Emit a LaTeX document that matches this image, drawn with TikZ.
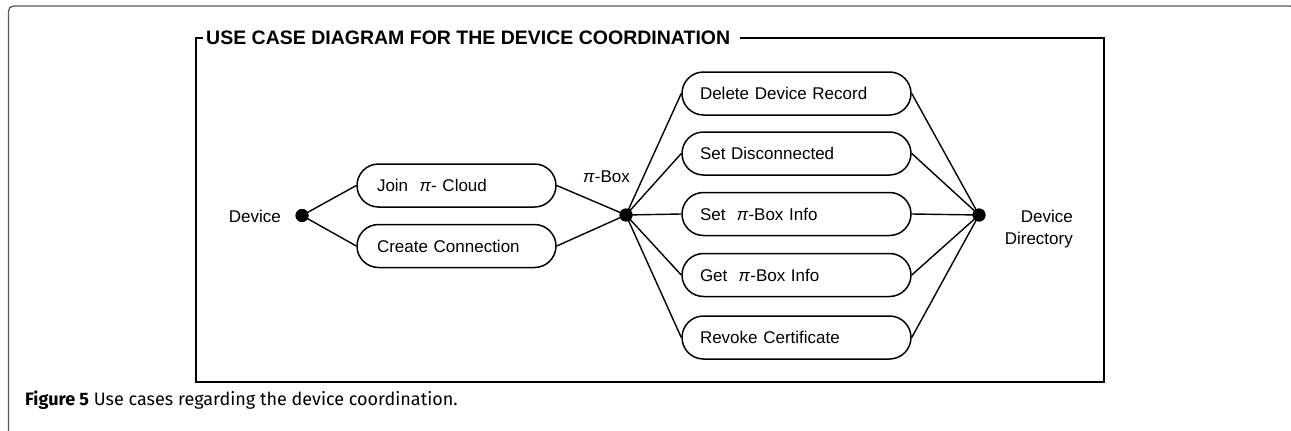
\documentclass[tikz,border=0pt]{standalone}
\usepackage{fontspec}
\setmainfont{Liberation Sans}
\newfontfamily\capfont{Fira Sans}
\newcommand\piit{\textit{π}}
\begin{document}
\begin{tikzpicture}[x=1pt,y=-1pt,
  usecase/.style={draw, line width=1.5pt, rounded corners=21.5pt,
    minimum height=43pt, inner ysep=0pt, align=left,
    font=\fontsize{17}{20}\selectfont},
  leftcase/.style={usecase, inner xsep=20pt, text width=159pt},
  rightcase/.style={usecase, inner xsep=18pt, text width=193pt},
  actor/.style={circle, fill=black, inner sep=0pt, minimum size=13pt},
  assoc/.style={line width=1.4pt},
  lbl/.style={font=\fontsize{17}{21.5}\selectfont, inner sep=0pt},
  frameline/.style={line width=2.8pt},
  pageline/.style={draw=black!65, line width=1.3pt, rounded corners=5pt}
]
\useasboundingbox (0,0) rectangle (1291,431);
\clip (0,0) rectangle (1291,431);

% page frame around the figure
\draw[pageline] (8.5,445) -- (8.5,6) -- (1295,6) -- (1295,445);

% system boundary with its title
\node[font=\fontsize{19.5}{22}\selectfont\bfseries, inner xsep=0pt, inner ysep=2pt,
      anchor=west] (title) at (203,38)
  {\kern3pt USE CASE DIAGRAM FOR THE DEVICE COORDINATION\kern10pt};
\draw[frameline] (title.east) -- (1104,38) -- (1104,382) -- (196,382) -- (196,38) -- (title.west);

% actors
\node[actor] (device) at (302,215.5) {};
\node[actor] (pibox)  at (626,215) {};
\node[actor] (dir)    at (979,215) {};
\node[lbl, anchor=east] (devicelbl) at (281,216) {Device};
\node[lbl] (piboxlbl) at (606.5,177) {\piit-Box};
\node[lbl, anchor=east, align=right] (dirlbl) at (1073,229) {Device\\Directory};

% use cases
\node[leftcase] (join)   at (456.5,185.5) {Join\ \ \piit-\ Cloud};
\node[leftcase] (create) at (456.5,246)   {Create Connection};
\node[rightcase] (delete)  at (796.5,93.5)  {Delete Device Record};
\node[rightcase] (disconn) at (796.5,153.5) {Set Disconnected};
\node[rightcase] (setinfo) at (796.5,214)   {Set\ \ \piit-Box Info};
\node[rightcase] (getinfo) at (796.5,275)   {Get\ \ \piit-Box Info};
\node[rightcase] (revoke)  at (796.5,337.5) {Revoke Certificate};

% associations
\draw[assoc] (device.center) -- (join.west);
\draw[assoc] (device.center) -- (create.west);
\draw[assoc] (join.east) -- (pibox.center);
\draw[assoc] (create.east) -- (pibox.center);
\foreach \u in {delete,disconn,setinfo,getinfo,revoke}{
  \draw[assoc] (pibox.center) -- (\u.west);
  \draw[assoc] (\u.east) -- (dir.center);
}
\node[actor] at (device) {};
\node[actor] at (pibox) {};
\node[actor] at (dir) {};

% caption
\node[anchor=base west, inner sep=0pt, font=\capfont\fontsize{18}{21}\selectfont] (caption)
  at (25,405) {\textbf{Figure 5} Use cases regarding the device coordination.};
\end{tikzpicture}
\end{document}
